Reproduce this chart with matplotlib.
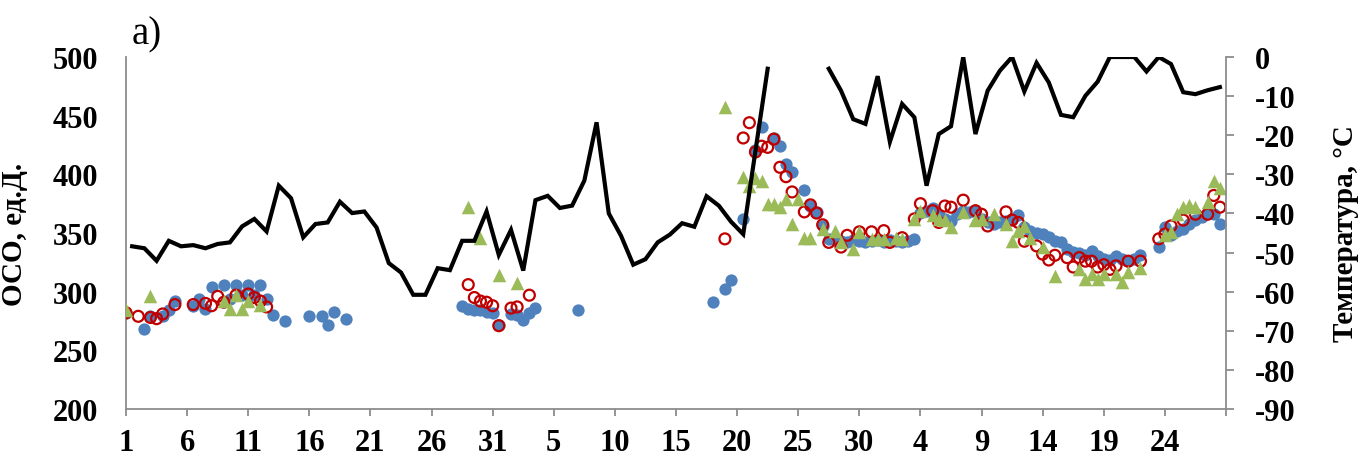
import numpy as np
import matplotlib
matplotlib.use("Agg")
import matplotlib.pyplot as plt

# x positions are day indices counted from 1 December (0 = Dec 1)
X_TICK_LABELS = ["1", "6", "11", "16", "21", "26", "31", "5", "10", "15",
                 "20", "25", "30", "4", "9", "14", "19", "24", ""]

# daily temperature (°C), right axis; gap where the curve leaves the plot
TEMP = [-48.4, -48.9, -52.1, -47.0, -48.4, -48.1, -48.9, -47.8, -47.4, -43.3,
        -41.4, -44.6, -32.9, -36.1, -46.1, -42.7, -42.3, -37.0, -39.9, -39.5,
        -43.6, -52.7, -55.1, -60.8, -60.8, -54.0, -54.5, -47.0, -47.0, -39.5,
        -50.6, -44.2, -54.6, -36.6, -35.5, -38.6, -38.0, -31.6, -16.7, -40.0,
        -45.7, -53.1, -51.7, -47.4, -45.4, -42.5, -43.4, -35.6, -38.0, -42.1,
        -45.3, -24.0, -3.0, np.nan, np.nan, np.nan, np.nan, -3.0, -8.6, -15.9,
        -17.1, -4.9, -21.7, -12.0, -15.4, -32.9, -19.7, -17.7, 0.0, -19.7,
        -8.6, -3.5, 0.0, -8.8, -1.5, -6.5, -14.8, -15.4, -9.9, -6.3,
        0.0, 0.0, 0.0, -3.7, 0.0, -1.8, -9.0, -9.5, -8.5, -7.7]

BLUE_X = [0, 1.5, 2, 3, 3.5, 4, 5.5, 6, 6.5, 7, 8, 8.5, 9, 9.5, 10, 10.5, 11,
          11.5, 12, 13, 15, 16, 16.5, 17, 18,
          27.5, 28, 28.5, 29, 29.5, 30, 30.5, 31.5, 32, 32.5, 33, 33.5, 37,
          48, 49, 49.5, 50.5, 51.5, 52, 53, 53.5, 54, 54.5, 55.5, 56, 56.5,
          57, 57.5, 58, 58.5, 59, 59.5, 60, 60.5, 61, 61.5, 62, 62.5, 63,
          63.5, 64, 64.5, 65, 65.5, 66, 66.5, 67, 67.5, 68, 68.5, 69, 69.5,
          70, 70.5, 71, 71.5, 72, 72.5, 73, 73.5, 74, 74.5, 75, 75.5, 76,
          76.5, 77, 77.5, 78, 78.5, 79, 79.5, 80, 80.5, 81, 81.5, 82, 82.5,
          83, 84.5, 85, 85.5, 86, 86.5, 87, 87.5, 88, 88.5, 89, 89.5]
BLUE_Y = [282, 268, 279, 279, 284, 292, 288, 294, 285, 304, 306, 294, 306,
          297, 306, 297, 306, 294, 280, 275, 279, 279, 272, 283, 277,
          288, 285, 284, 284, 283, 282, 272, 281, 280, 276, 282, 286, 284,
          291, 302, 310, 362, 421, 440, 431, 424, 409, 402, 387, 373, 368,
          356, 345, 344, 343, 342, 344, 343, 342, 343, 344, 342, 344, 343,
          342, 343, 345, 367, 369, 371, 365, 362, 360, 366, 369, 368, 369,
          362, 359, 358, 359, 360, 362, 365, 355, 352, 350, 349, 347, 343,
          342, 336, 334, 333, 331, 335, 330, 328, 327, 330, 328, 326, 328,
          331, 338, 355, 348, 352, 353, 358, 361, 364, 368, 366, 358]

RED_X = [0, 1, 2, 2.5, 3, 4, 5.5, 6.5, 7, 7.5, 8, 9, 10, 10.5, 11, 11.5,
         28, 28.5, 29, 29.5, 30, 30.5, 31.5, 32, 33,
         49, 50.5, 51, 51.5, 52, 52.5, 53, 53.5, 54, 54.5, 55.5, 56, 56.5,
         57, 57.5, 58.5, 59, 60, 61, 62, 62.5, 63.5, 64.5, 65, 66, 66.5,
         67, 67.5, 68.5, 69.5, 70, 70.5, 72, 72.5, 73, 73.5, 74.5, 75, 75.5,
         76, 77, 77.5, 78, 78.5, 79, 79.5, 80, 80.5, 81, 82, 83, 84.5, 85,
         85.5, 86.5, 87.5, 88.5, 89, 89.5]
RED_Y = [282, 279, 278, 277, 281, 289, 289, 290, 288, 296, 291, 297, 298,
         295, 292, 287,
         306, 295, 292, 291, 288, 271, 286, 287, 297,
         345, 431, 444, 419, 424, 423, 430, 406, 398, 385, 368, 374, 367,
         357, 342, 338, 348, 351, 351, 352, 342, 346, 362, 375, 369, 359,
         373, 372, 378, 369, 366, 356, 368, 361, 359, 343, 339, 332, 327,
         331, 329, 321, 329, 326, 326, 321, 323, 319, 322, 326, 326, 345,
         349, 356, 361, 366, 366, 382, 372]

GREEN_X = [0, 2, 8, 8.5, 9, 9.5, 10, 11,
           28, 29, 30.5, 32,
           49, 50.5, 51, 51.5, 52, 52.5, 53, 53.5, 54, 54.5, 55, 55.5, 56,
           57, 58, 58.5, 59.5, 60, 61, 61.5, 62, 63, 63.5, 64.5, 65, 66,
           66.5, 67, 67.5, 68.5, 69.5, 70, 71, 72, 72.5, 73, 73.5, 74, 75,
           76, 78, 78.5, 79, 79.5, 80, 81, 81.5, 82, 83, 85, 85.5, 86, 86.5,
           87, 87.5, 88.5, 89, 89.5]
GREEN_Y = [284, 296, 292, 285, 297, 285, 292, 289,
           372, 346, 314, 307,
           457, 398, 390, 397, 394, 375, 375, 372, 379, 358, 379, 346, 346,
           353, 352, 342, 336, 351, 345, 345, 345, 346, 345, 362, 369, 365,
           362, 361, 355, 368, 361, 362, 366, 358, 343, 352, 356, 346, 338,
           313, 319, 311, 315, 311, 315, 315, 308, 317, 320, 348, 351, 366,
           372, 374, 372, 376, 394, 388]

BLUE = "#4F81BD"
RED = "#C00000"
GREEN = "#9BBB59"
AXIS_GRAY = "#8C8C8C"

plt.rcParams["font.family"] = ["Liberation Serif", "DejaVu Serif"]
plt.rcParams["font.weight"] = "bold"
plt.rcParams["axes.unicode_minus"] = False

fig = plt.figure(figsize=(13.61, 4.6), dpi=100)
ax = fig.add_axes([0.0926, 0.1087, 0.8082, 0.7652])
ax2 = ax.twinx()

ax.scatter(BLUE_X, BLUE_Y, s=78, color=BLUE, linewidths=0, zorder=2)
ax.scatter(RED_X, RED_Y, s=62, facecolors="none", edgecolors=RED,
           linewidths=1.6, zorder=3)
ax.scatter(GREEN_X, GREEN_Y, s=95, marker="^", color=GREEN, linewidths=0,
           zorder=4)

temp_x = np.arange(len(TEMP)) + 0.5
ax2.plot(temp_x, TEMP, color="black", linewidth=3.0, solid_joinstyle="miter")

ax.set_xlim(0, 90)
ax.set_ylim(200, 500)
ax.set_yticks(range(200, 501, 50))
ax.set_xticks(range(0, 91, 5))
ax.set_xticklabels(X_TICK_LABELS)
ax2.set_ylim(-90, 0)
ax2.set_yticks(range(-90, 1, 10))

for a in (ax, ax2):
    a.spines["top"].set_visible(False)
    for s in ("left", "bottom", "right"):
        a.spines[s].set_color(AXIS_GRAY)
        a.spines[s].set_linewidth(1.3)
ax.spines["right"].set_visible(False)
ax2.spines["left"].set_visible(False)
ax2.spines["bottom"].set_visible(False)

ax.tick_params(axis="y", length=0, pad=20, labelsize=22)
ax.tick_params(axis="x", length=5, width=1.3, color=AXIS_GRAY, pad=9,
               labelsize=22)
ax2.tick_params(axis="y", length=6, width=1.3, color=AXIS_GRAY, pad=15,
                labelsize=22)

ax.set_ylabel("ОСО, ед.Д.", fontsize=21, fontweight="bold")
ax.yaxis.set_label_coords(-0.089, 0.5)
ax2.set_ylabel("Температура, °C", fontsize=21, fontweight="bold")
ax2.yaxis.set_label_coords(1.096, 0.5)

fig.text(0.097, 0.925, "a)", fontsize=28, fontweight="normal",
         ha="left", va="center")

fig.savefig("out.png", dpi=100)
